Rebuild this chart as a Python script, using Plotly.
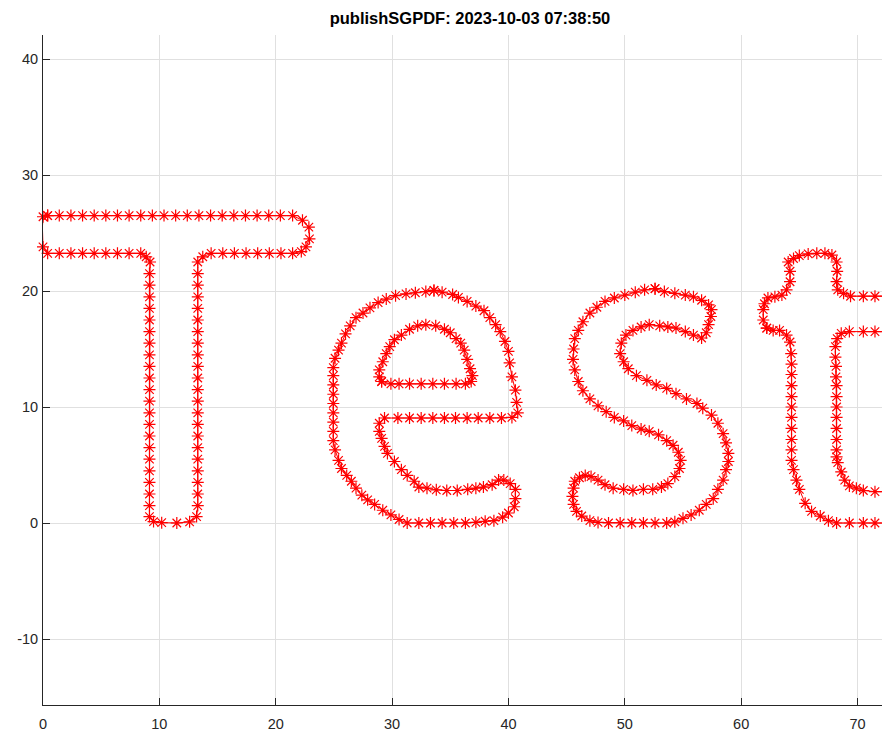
import plotly.graph_objects as go

# ---- data: outline sample points of the glyphs "Test" ----
T_x = [0.4, 1.4, 2.4, 3.4, 4.4, 5.4, 6.4, 7.4, 8.4, 9.4, 10.4, 11.4, 12.4, 13.4, 14.4, 15.4, 16.4, 17.4, 18.4, 19.4, 20.4, 21.45,
       22.3, 22.85, 22.9, 22.6, 22.2,
       21.45, 20.45, 19.45, 18.45, 17.45, 16.45, 15.45, 14.45, 13.73, 13.3,
       13.3, 13.3, 13.3, 13.3, 13.3, 13.3, 13.3, 13.3, 13.3, 13.3, 13.3, 13.3, 13.3, 13.3, 13.3, 13.3, 13.3, 13.3, 13.3, 13.3, 13.3,
       13.2, 12.6, 11.5, 10.2, 9.5, 9.15,
       9.15, 9.15, 9.15, 9.15, 9.15, 9.15, 9.15, 9.15, 9.15, 9.15, 9.15, 9.15, 9.15, 9.15, 9.15, 9.15, 9.15, 9.15, 9.15, 9.15, 9.15,
       9.2, 8.87, 8.4, 7.4, 6.4, 5.4, 4.4, 3.4, 2.4, 1.4, 0.4,
       0.0, -0.05, -0.05, 0.0, 0.4]
T_y = [26.5] * 22 + [26.1, 25.5, 24.5, 23.8, 23.4,
       23.25, 23.25, 23.25, 23.25, 23.25, 23.25, 23.25, 23.25, 22.95, 22.5,
       21.5, 20.5, 19.5, 18.5, 17.5, 16.5, 15.5, 14.5, 13.5, 12.5, 11.5, 10.5, 9.5, 8.5, 7.5, 6.5, 5.5, 4.5, 3.5, 2.5, 1.5,
       0.55, 0.1, 0.0, 0.03, 0.12, 0.55,
       1.5, 2.5, 3.5, 4.5, 5.5, 6.5, 7.5, 8.5, 9.5, 10.5, 11.5, 12.5, 13.5, 14.5, 15.5, 16.5, 17.5, 18.5, 19.5, 20.5, 21.5,
       22.5, 22.95, 23.25, 23.25, 23.25, 23.25, 23.25, 23.25, 23.25, 23.25, 23.25,
       23.8, 24.7, 25.5, 26.4, 26.5]

e_outer_x = [33.6, 34.3, 35.2, 35.7, 36.45, 37.2, 37.9, 38.4, 38.9, 39.3, 39.7, 40.0, 40.1, 40.3, 40.6, 40.7, 40.8, 40.3,
             39.4, 38.4, 37.4, 36.45, 35.45, 34.5, 33.5, 32.5, 31.5, 30.5, 29.35,
             28.9, 28.9, 29.1, 29.35, 29.6, 30.2, 30.8, 31.3, 31.9, 32.3, 33.0, 33.8, 34.7, 35.6, 36.5, 37.2, 37.85, 38.6, 39.15,
             39.6, 40.15, 40.6, 40.6, 40.5, 40.0, 39.5, 38.75, 38.0, 37.2, 36.3, 35.3, 34.3, 33.3, 32.3, 31.3,
             30.6, 29.9, 29.2, 28.5, 27.9, 27.4, 26.9, 26.5, 26.1, 25.65, 25.4, 25.1, 24.95,
             24.95, 24.95, 24.95, 24.95, 24.95, 24.95, 24.95, 24.95,
             25.1, 25.4, 25.65, 26.0, 26.4, 26.9, 27.5, 28.1, 28.8, 29.5, 30.3, 31.2, 32.0, 32.9, 33.6]
e_outer_y = [20.05, 19.9, 19.7, 19.45, 19.1, 18.7, 18.3, 17.7, 17.1, 16.5, 15.65, 14.8, 13.8, 12.6, 11.45, 10.4, 9.5, 9.1,
             9.05, 9.05, 9.05, 9.05, 9.05, 9.05, 9.05, 9.05, 9.05, 9.05, 9.05,
             8.6, 7.9, 7.3, 6.6, 6.0, 5.3, 4.6, 4.1, 3.6, 3.1, 3.0, 2.86, 2.8, 2.8, 2.9, 3.0, 3.1, 3.3, 3.7,
             3.7, 3.4, 2.9, 2.1, 1.4, 0.86, 0.5, 0.2, 0.15, 0.06, 0.0, 0.0, 0.0, 0.0, 0.0, 0.0,
             0.3, 0.7, 1.1, 1.6, 2.0, 2.4, 3.0, 3.6, 4.1, 4.7, 5.4, 6.3, 7.1,
             7.9, 8.7, 9.5, 10.3, 11.1, 11.9, 12.7, 13.4,
             14.2, 14.9, 15.5, 16.3, 17.0, 17.7, 18.1, 18.55, 19.0, 19.3, 19.6, 19.75, 19.85, 19.95, 20.05]

e_inner_x = [29.1, 29.9, 30.6, 31.5, 32.5, 33.5, 34.5, 35.5, 36.3, 36.8, 36.9, 36.7, 36.45, 36.2, 35.9, 35.5, 35.0, 34.5,
             33.75, 32.9, 32.2, 31.5, 30.8, 30.2, 29.8, 29.5, 29.2, 28.9, 28.9, 29.1]
e_inner_y = [12.2, 12.0, 12.0, 12.0, 12.0, 12.0, 12.0, 12.0, 12.0, 12.2, 12.7, 13.3, 14.1, 14.9, 15.5, 15.9, 16.4, 16.7,
             17.0, 17.1, 17.0, 16.7, 16.2, 15.8, 15.2, 14.6, 13.9, 13.2, 12.6, 12.2]

s_x = [52.6, 53.4, 54.3, 55.2, 55.9, 56.6, 57.2, 57.45, 57.4, 57.2, 57.0, 56.6, 55.9, 55.2, 54.4, 53.7, 53.0, 52.1, 51.4,
       50.7, 50.1, 49.7, 49.6, 49.9, 50.3, 51.0, 51.9, 52.7, 53.6, 54.4, 55.3, 56.2, 56.7, 57.45, 58.0, 58.45, 58.7, 58.9,
       58.9, 58.7, 58.45, 58.0, 57.6, 57.0, 56.4, 55.7, 55.0, 54.3, 53.6, 52.6, 51.6, 50.6, 49.6, 48.6, 47.7, 47.0, 46.3,
       45.85, 45.6, 45.5, 45.6, 45.7, 46.1, 46.6, 47.1, 47.7, 48.3, 49.0, 49.9, 50.7, 51.6, 52.4, 53.15, 53.7, 54.3, 54.7,
       54.8, 54.6, 54.15, 53.6, 52.9, 52.1, 51.4, 50.6, 49.9, 49.1, 48.4, 47.7, 47.0, 46.4, 46.0, 45.7, 45.55, 45.6, 45.7,
       46.0, 46.4, 47.0, 47.6, 48.3, 49.1, 50.0, 50.9, 51.7, 52.6]
s_y = [20.2, 19.95, 19.8, 19.65, 19.5, 19.2, 18.8, 18.4, 17.8, 17.1, 16.4, 15.95, 16.2, 16.5, 16.8, 16.9, 17.0, 17.1, 16.9,
       16.6, 16.2, 15.5, 14.6, 13.9, 13.3, 12.7, 12.3, 11.9, 11.6, 11.15, 10.7, 10.3, 9.9, 9.3, 8.6, 7.7, 6.9, 6.0,
       5.3, 4.6, 3.7, 2.9, 2.1, 1.6, 1.1, 0.7, 0.4, 0.1, 0.0, 0.0, 0.0, 0.0, 0.0, 0.0, 0.05, 0.2, 0.6,
       1.0, 1.6, 2.3, 3.0, 3.6, 3.9, 4.1, 4.0, 3.7, 3.3, 3.0, 2.9, 2.8, 2.9, 2.9, 3.1, 3.4, 4.0, 4.7,
       5.4, 6.1, 6.7, 7.1, 7.6, 7.9, 8.1, 8.4, 8.8, 9.1, 9.6, 10.1, 10.7, 11.4, 12.2, 13.2, 14.1, 15.0, 15.9,
       16.6, 17.35, 18.1, 18.6, 19.1, 19.4, 19.65, 19.9, 20.1, 20.2]

t_x = [62.2, 62.75, 63.3, 63.9, 64.2, 64.3, 64.33, 64.33, 64.33, 64.33, 64.33, 64.33, 64.33, 64.33, 64.33, 64.33,
       64.5, 64.75, 65.0, 65.5, 66.05, 66.8, 67.5, 68.2, 69.3, 70.5, 71.5, 72.5, 73.3, 73.9, 74.1, 73.9, 73.3,
       72.5, 71.5, 70.5, 69.9, 69.3, 68.9, 68.6, 68.3, 68.2, 68.2, 68.2, 68.2, 68.2, 68.2, 68.2, 68.2, 68.15, 68.15,
       68.1, 68.1, 68.25, 68.6, 69.3, 70.5, 71.5, 72.5, 73.1, 73.5, 73.5, 73.1, 72.5, 71.5, 70.5, 69.4, 68.8, 68.3,
       68.2, 68.25, 68.2, 67.8, 67.2, 66.5, 65.76, 65.0, 64.5, 64.04, 64.2, 64.2, 63.9, 63.5, 62.9, 62.3, 62.0, 61.9,
       61.9, 62.2]
t_y = [16.8, 16.6, 16.6, 16.2, 15.6, 14.6, 13.7, 12.8, 11.85, 10.9, 10.0, 9.1, 8.15, 7.2, 6.3, 5.4,
       4.6, 3.7, 2.9, 1.7, 1.0, 0.6, 0.2, 0.0, 0.0, 0.0, 0.0, 0.0, 0.2, 0.7, 1.5, 2.3, 2.6,
       2.7, 2.7, 2.8, 3.0, 3.2, 3.7, 4.4, 5.2, 5.7, 6.3, 7.2, 8.15, 9.1, 10.0, 10.9, 11.85, 12.6, 13.5,
       14.3, 15.2, 15.9, 16.35, 16.5, 16.5, 16.5, 16.5, 16.8, 17.5, 18.5, 19.2, 19.55, 19.55, 19.55, 19.55, 19.8, 20.1,
       20.8, 21.7, 22.5, 23.1, 23.25, 23.25, 23.2, 23.05, 22.8, 22.5, 21.7, 20.8, 20.1, 19.65, 19.5, 19.4, 18.9, 18.4,
       17.5, 16.8]

x_ticks = [0, 10, 20, 30, 40, 50, 60, 70]
y_ticks = [-10, 0, 10, 20, 30, 40]
title_text = "publishSGPDF: 2023-10-03 07:38:50"

contours = [(T_x, T_y), (e_outer_x, e_outer_y), (e_inner_x, e_inner_y), (s_x, s_y), (t_x, t_y)]
xs, ys = [], []
for cx, cy in contours:
    xs += list(cx) + [None]
    ys += list(cy) + [None]

# the page body has an 8 px margin; size the figure so it fits the 890x733 window
OFF = 8
W, H = 890 - OFF, 733 - OFF
ml, mr, mt, mb = 43 - OFF, 0, 35 - OFF, 28
px_per_x = 11.636
px_per_y = 11.6
xmax = (W - ml - mr) / px_per_x
y0_pix = 523 - OFF  # pixel row of y = 0 inside the figure
ymin = -(H - mb - y0_pix) / px_per_y
ymax = (y0_pix - mt) / px_per_y

fig = go.Figure()
fig.add_trace(go.Scatter(
    x=xs, y=ys, mode="lines+markers",
    line=dict(color="#ff0000", width=1),
    marker=dict(symbol="asterisk-open", size=10, color="#ff0000",
                line=dict(color="#ff0000", width=1.2)),
    cliponaxis=False, showlegend=False, connectgaps=False,
))

axis_common = dict(
    showgrid=True, gridcolor="#e0e0e0", gridwidth=1,
    zeroline=False, showline=True, linecolor="#262626", linewidth=1,
    ticks="inside", ticklen=7, tickcolor="#262626", tickwidth=1,
    tickfont=dict(family="Liberation Sans, Arial, sans-serif", size=14.5, color="#262626"),
    mirror=False,
)
fig.update_xaxes(range=[0, xmax], tickvals=x_ticks, ticktext=[str(v) for v in x_ticks],
                 ticklabelstandoff=6, **axis_common)
fig.update_yaxes(range=[ymin, ymax], tickvals=y_ticks, ticktext=[str(v) for v in y_ticks],
                 ticklabelstandoff=1, **axis_common)

fig.update_layout(
    width=W, height=H,
    margin=dict(l=ml, r=mr, t=mt, b=mb, pad=0),
    paper_bgcolor="white", plot_bgcolor="white",
    title=dict(text=title_text, xref="container", yref="container",
               x=(470 - OFF) / W, xanchor="center", y=1 - (18 - OFF) / H, yanchor="middle",
               font=dict(family="Liberation Sans, Arial, sans-serif", size=16.5, color="#000000", weight="bold")),
)

fig.write_html("out.html")
